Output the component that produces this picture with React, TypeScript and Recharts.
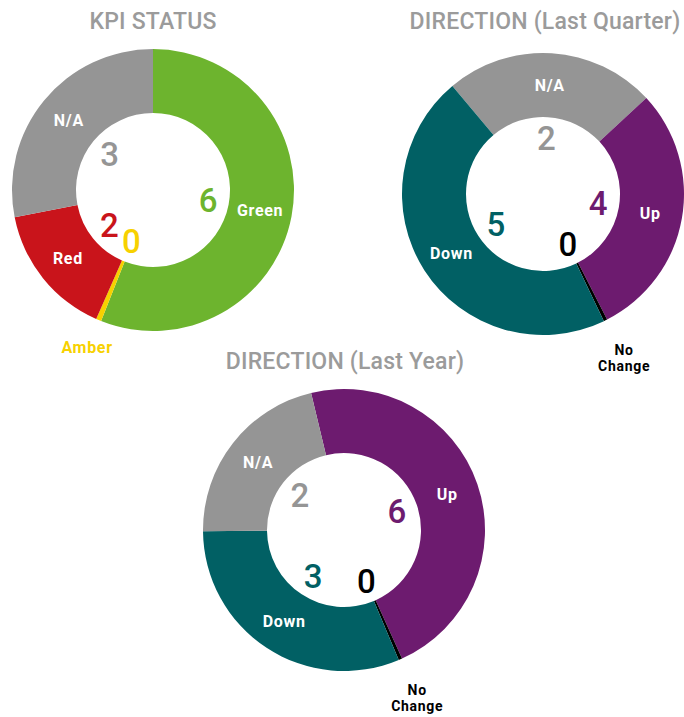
import React from 'react';
import { PieChart, Pie, Cell } from 'recharts';

// KPI STATUS
const kpiNames = ['Green', 'Amber', 'Red', 'N/A'];
const kpiCounts = [6, 0, 2, 3];
const kpiShares = [56, 0.6, 15.3, 28.1]; // arc size (% of ring) as drawn

// DIRECTION (Last Quarter)
const quarterNames = ['N/A', 'Up', 'No Change', 'Down'];
const quarterCounts = [2, 4, 0, 5];
const quarterShares = [24.2, 29.4, 0.4, 46];

// DIRECTION (Last Year)
const yearNames = ['Up', 'No Change', 'Down', 'N/A'];
const yearCounts = [6, 0, 3, 2];
const yearShares = [47, 0.4, 31.2, 21.4];

const sliceColors: Record<string, string> = {
  Green: '#6db42e',
  Amber: '#f7d100',
  Red: '#c9141b',
  'N/A': '#959595',
  Up: '#6d1b6f',
  Down: '#016064',
  'No Change': '#000000',
};

const FONT = "Roboto, 'Open Sans', sans-serif";
const RAD = Math.PI / 180;
// recharts offsets pixel cx/cy by the default 5px chart margin
const MARGIN = 5;

const buildData = (names: string[], counts: number[], shares: number[]) =>
  names.map((name, i) => ({ name, count: counts[i], share: shares[i] }));

const renderLabel = (props: any) => {
  const { cx, cy, midAngle, innerRadius, outerRadius } = props;
  const entry = props.payload ?? props;
  const name: string = entry.name;
  const count: number = entry.count;
  const color = sliceColors[name];
  const cos = Math.cos(-midAngle * RAD);
  const sin = Math.sin(-midAngle * RAD);

  const countR = innerRadius - 21;
  const ringR = (innerRadius + outerRadius) / 2;

  const words = count > 0 ? [name] : name.split(' ');
  const nameR = count > 0 ? ringR : outerRadius + 18 + 12 * words.length;
  const nx = cx + nameR * cos;
  const ny = cy + nameR * sin;
  const lineH = 16;
  const top = ny - ((words.length - 1) * lineH) / 2;

  return (
    <g>
      <text
        x={cx + countR * cos}
        y={cy + countR * sin}
        fill={color}
        textAnchor="middle"
        dominantBaseline="central"
        fontSize={33}
        fontWeight={500}
        fontFamily={FONT}
      >
        {count}
      </text>
      {words.map((w, i) => (
        <text
          key={w}
          x={nx}
          y={top + i * lineH}
          fill={count > 0 ? '#ffffff' : color}
          textAnchor="middle"
          dominantBaseline="central"
          fontSize={words.length > 1 ? 14 : 16}
          fontWeight={700}
          fontFamily={FONT}
          letterSpacing={0.7}
        >
          {w}
        </text>
      ))}
    </g>
  );
};

const donuts = [
  { id: 'kpi', data: buildData(kpiNames, kpiCounts, kpiShares), cx: 153, cy: 190, start: 90 },
  { id: 'quarter', data: buildData(quarterNames, quarterCounts, quarterShares), cx: 543, cy: 194, start: 130 },
  { id: 'year', data: buildData(yearNames, yearCounts, yearShares), cx: 344, cy: 530, start: 103.5 },
];

const titles = [
  { text: 'KPI STATUS', x: 153, y: 22 },
  { text: 'DIRECTION (Last Quarter)', x: 545, y: 22 },
  { text: 'DIRECTION (Last Year)', x: 345, y: 362 },
];

const App: React.FC = () => {
  return (
    <div style={{ position: 'absolute', left: 0, top: 0, width: 684, height: 717, background: '#fff' }}>
      <PieChart width={684} height={717}>
        {donuts.map((d) => (
          <Pie
            key={d.id}
            data={d.data}
            dataKey="share"
            nameKey="name"
            cx={d.cx - MARGIN}
            cy={d.cy - MARGIN}
            innerRadius={77}
            outerRadius={141}
            startAngle={d.start}
            endAngle={d.start - 360}
            stroke="none"
            labelLine={false}
            label={renderLabel}
            isAnimationActive={false}
          >
            {d.data.map((entry) => (
              <Cell key={`${d.id}-${entry.name}`} fill={sliceColors[entry.name]} />
            ))}
          </Pie>
        ))}
      </PieChart>
      {titles.map((t) => (
        <div
          key={t.text}
          style={{
            position: 'absolute',
            left: t.x - 200,
            top: t.y - 14,
            width: 400,
            lineHeight: '28px',
            textAlign: 'center',
            fontFamily: FONT,
            fontSize: 23,
            fontWeight: 500,
            letterSpacing: 0.2,
            color: '#9b9b9b',
            whiteSpace: 'nowrap',
          }}
        >
          {t.text}
        </div>
      ))}
    </div>
  );
};

export default App;
